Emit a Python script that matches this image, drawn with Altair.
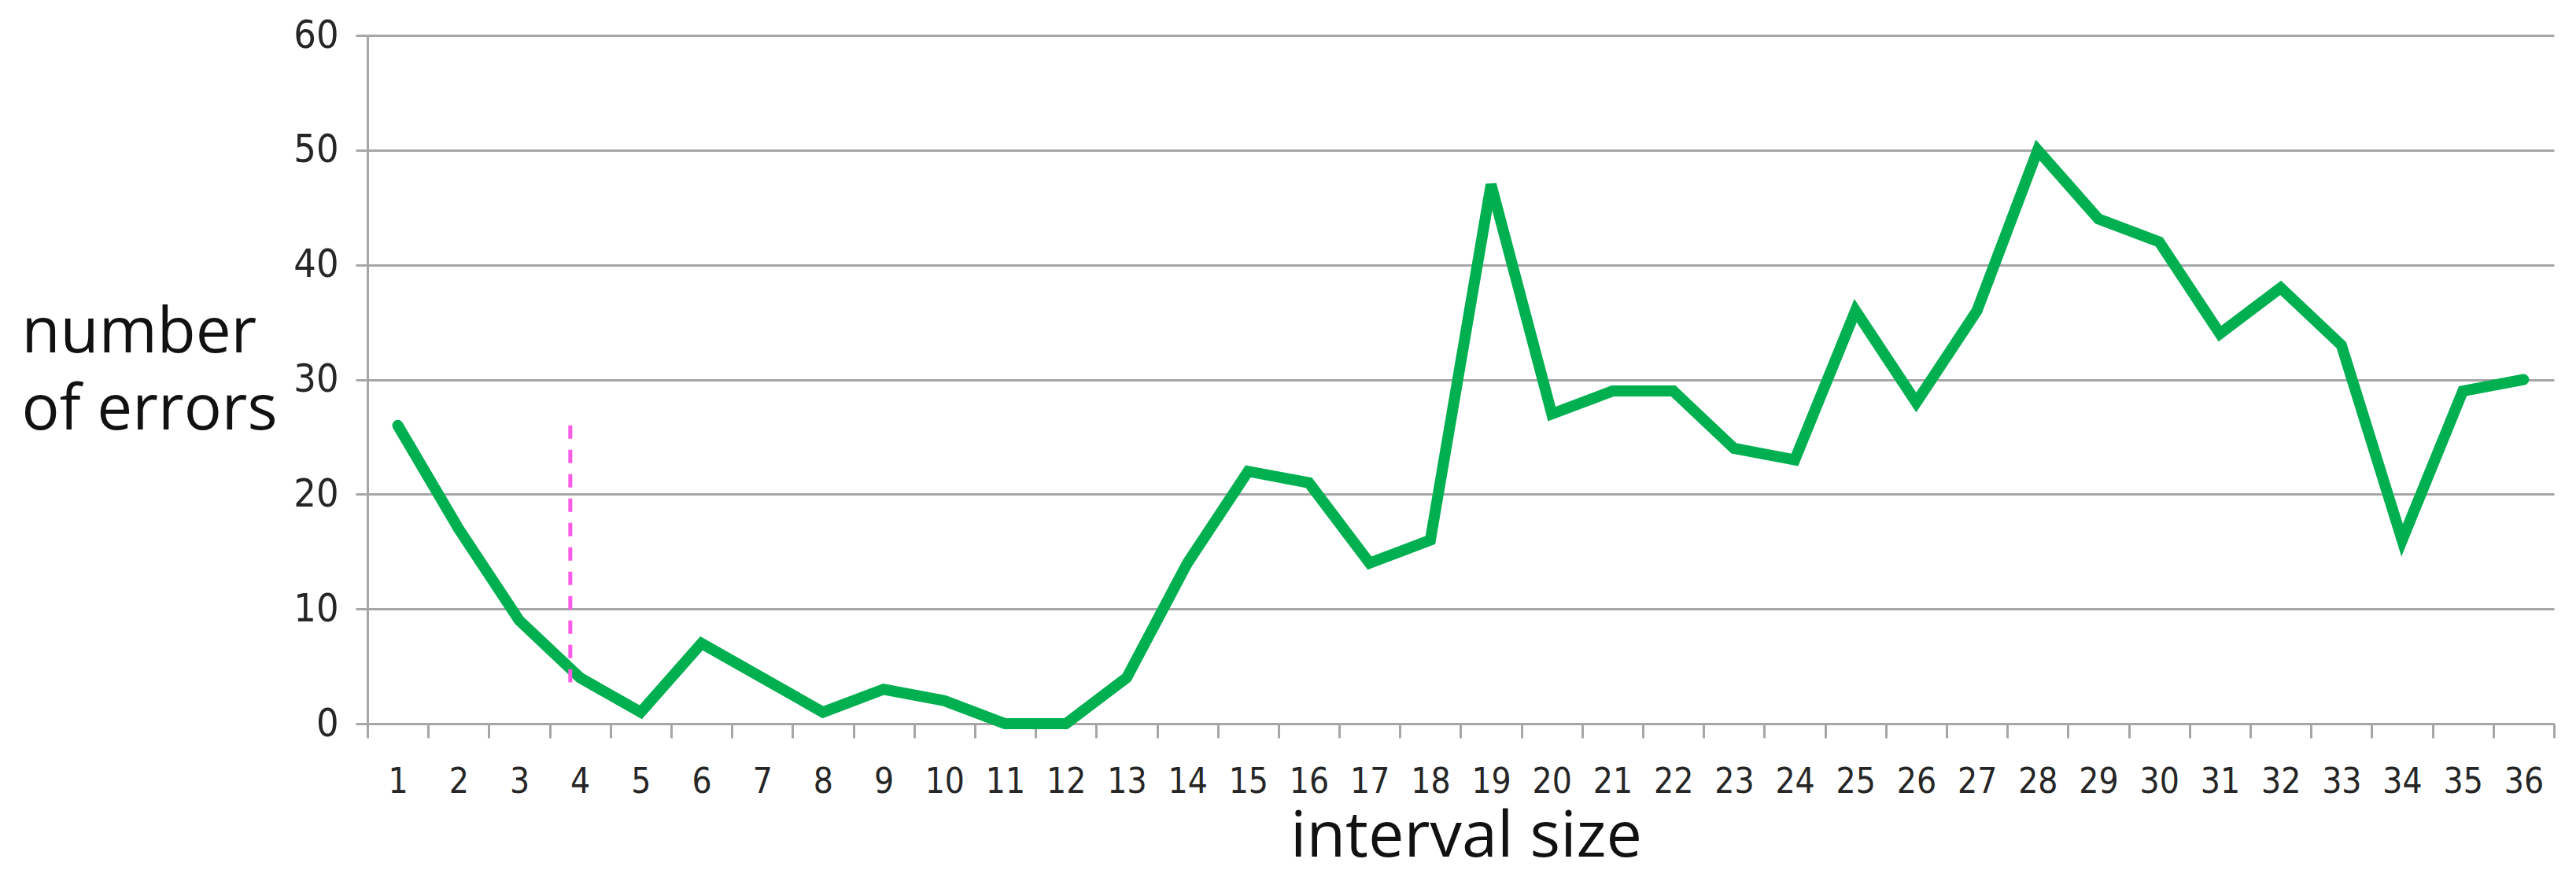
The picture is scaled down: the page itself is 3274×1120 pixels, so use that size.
import altair as alt
import pandas as pd

intervals = list(range(1, 37))
errors = [26, 17, 9, 4, 1, 7, 4, 1, 3, 2, 0, 0, 4, 14, 22, 21, 14, 16, 47, 27,
          29, 29, 24, 23, 36, 28, 36, 50, 44, 42, 34, 38, 33, 16, 29, 30]
y_ticks = [0, 10, 20, 30, 40, 50, 60]

marker_interval = [4]
marker_top = [26]
marker_bottom = [3.6]

df = pd.DataFrame({"interval": intervals, "errors": errors})
mk = pd.DataFrame({"interval": marker_interval, "top": marker_top, "bottom": marker_bottom})

GRAY = "#a6a6a6"
LABEL_FONT = "Liberation Sans Narrow, Arial Narrow, DejaVu Sans Condensed, Liberation Sans, Arial"
TITLE_FONT = "Open Sans"

x_scale = alt.Scale(type="band", domain=intervals, paddingInner=0, paddingOuter=0)

x_axis = alt.Axis(
    title="interval size", labelAngle=0, tickBand="extent",
    tickSize=18, tickColor=GRAY, tickWidth=3,
    domainColor=GRAY, domainWidth=3, grid=False,
    labelFont=LABEL_FONT, labelFontSize=44, labelColor="#262626", labelPadding=34,
    titleFont=TITLE_FONT, titleFontSize=81, titleFontWeight="normal", titleColor="#111111",
    titleBaseline="alphabetic", titleAlign="center", titleX=1396, titleY=168,
)

y_axis = alt.Axis(
    title=["number", "of errors"], values=y_ticks,
    grid=True, gridColor=GRAY, gridWidth=3,
    tickSize=15, tickColor=GRAY, tickWidth=3,
    domainColor=GRAY, domainWidth=3,
    labelFont=LABEL_FONT, labelFontSize=50, labelColor="#262626", labelPadding=22,
    titleFont=TITLE_FONT, titleFontSize=80, titleFontWeight="normal", titleColor="#111111",
    titleAngle=0, titleAlign="left", titleBaseline="alphabetic",
    titleX=-440, titleY=402, titleLineHeight=98,
)

line = alt.Chart(df).mark_line(color="#00b050", strokeWidth=14, strokeJoin="miter", strokeCap="round").encode(
    x=alt.X("interval:O", scale=x_scale, axis=x_axis),
    y=alt.Y("errors:Q", scale=alt.Scale(domain=[0, 60], nice=False), axis=y_axis),
)

marker = alt.Chart(mk).mark_rule(color="#ff5ce6", strokeWidth=5, strokeDash=[17, 14]).encode(
    x=alt.X("interval:O", scale=x_scale, bandPosition=0.34),
    y=alt.Y("top:Q"),
    y2=alt.Y2("bottom:Q"),
)

chart = alt.layer(line, marker).properties(
    width=2779, height=875,
    autosize=alt.AutoSizeParams(type="none"),
    padding={"left": 459, "top": 37, "right": 20, "bottom": 192},
).configure_view(stroke=None)

chart.save("out.html", embed_options={"renderer": "svg", "actions": False})
